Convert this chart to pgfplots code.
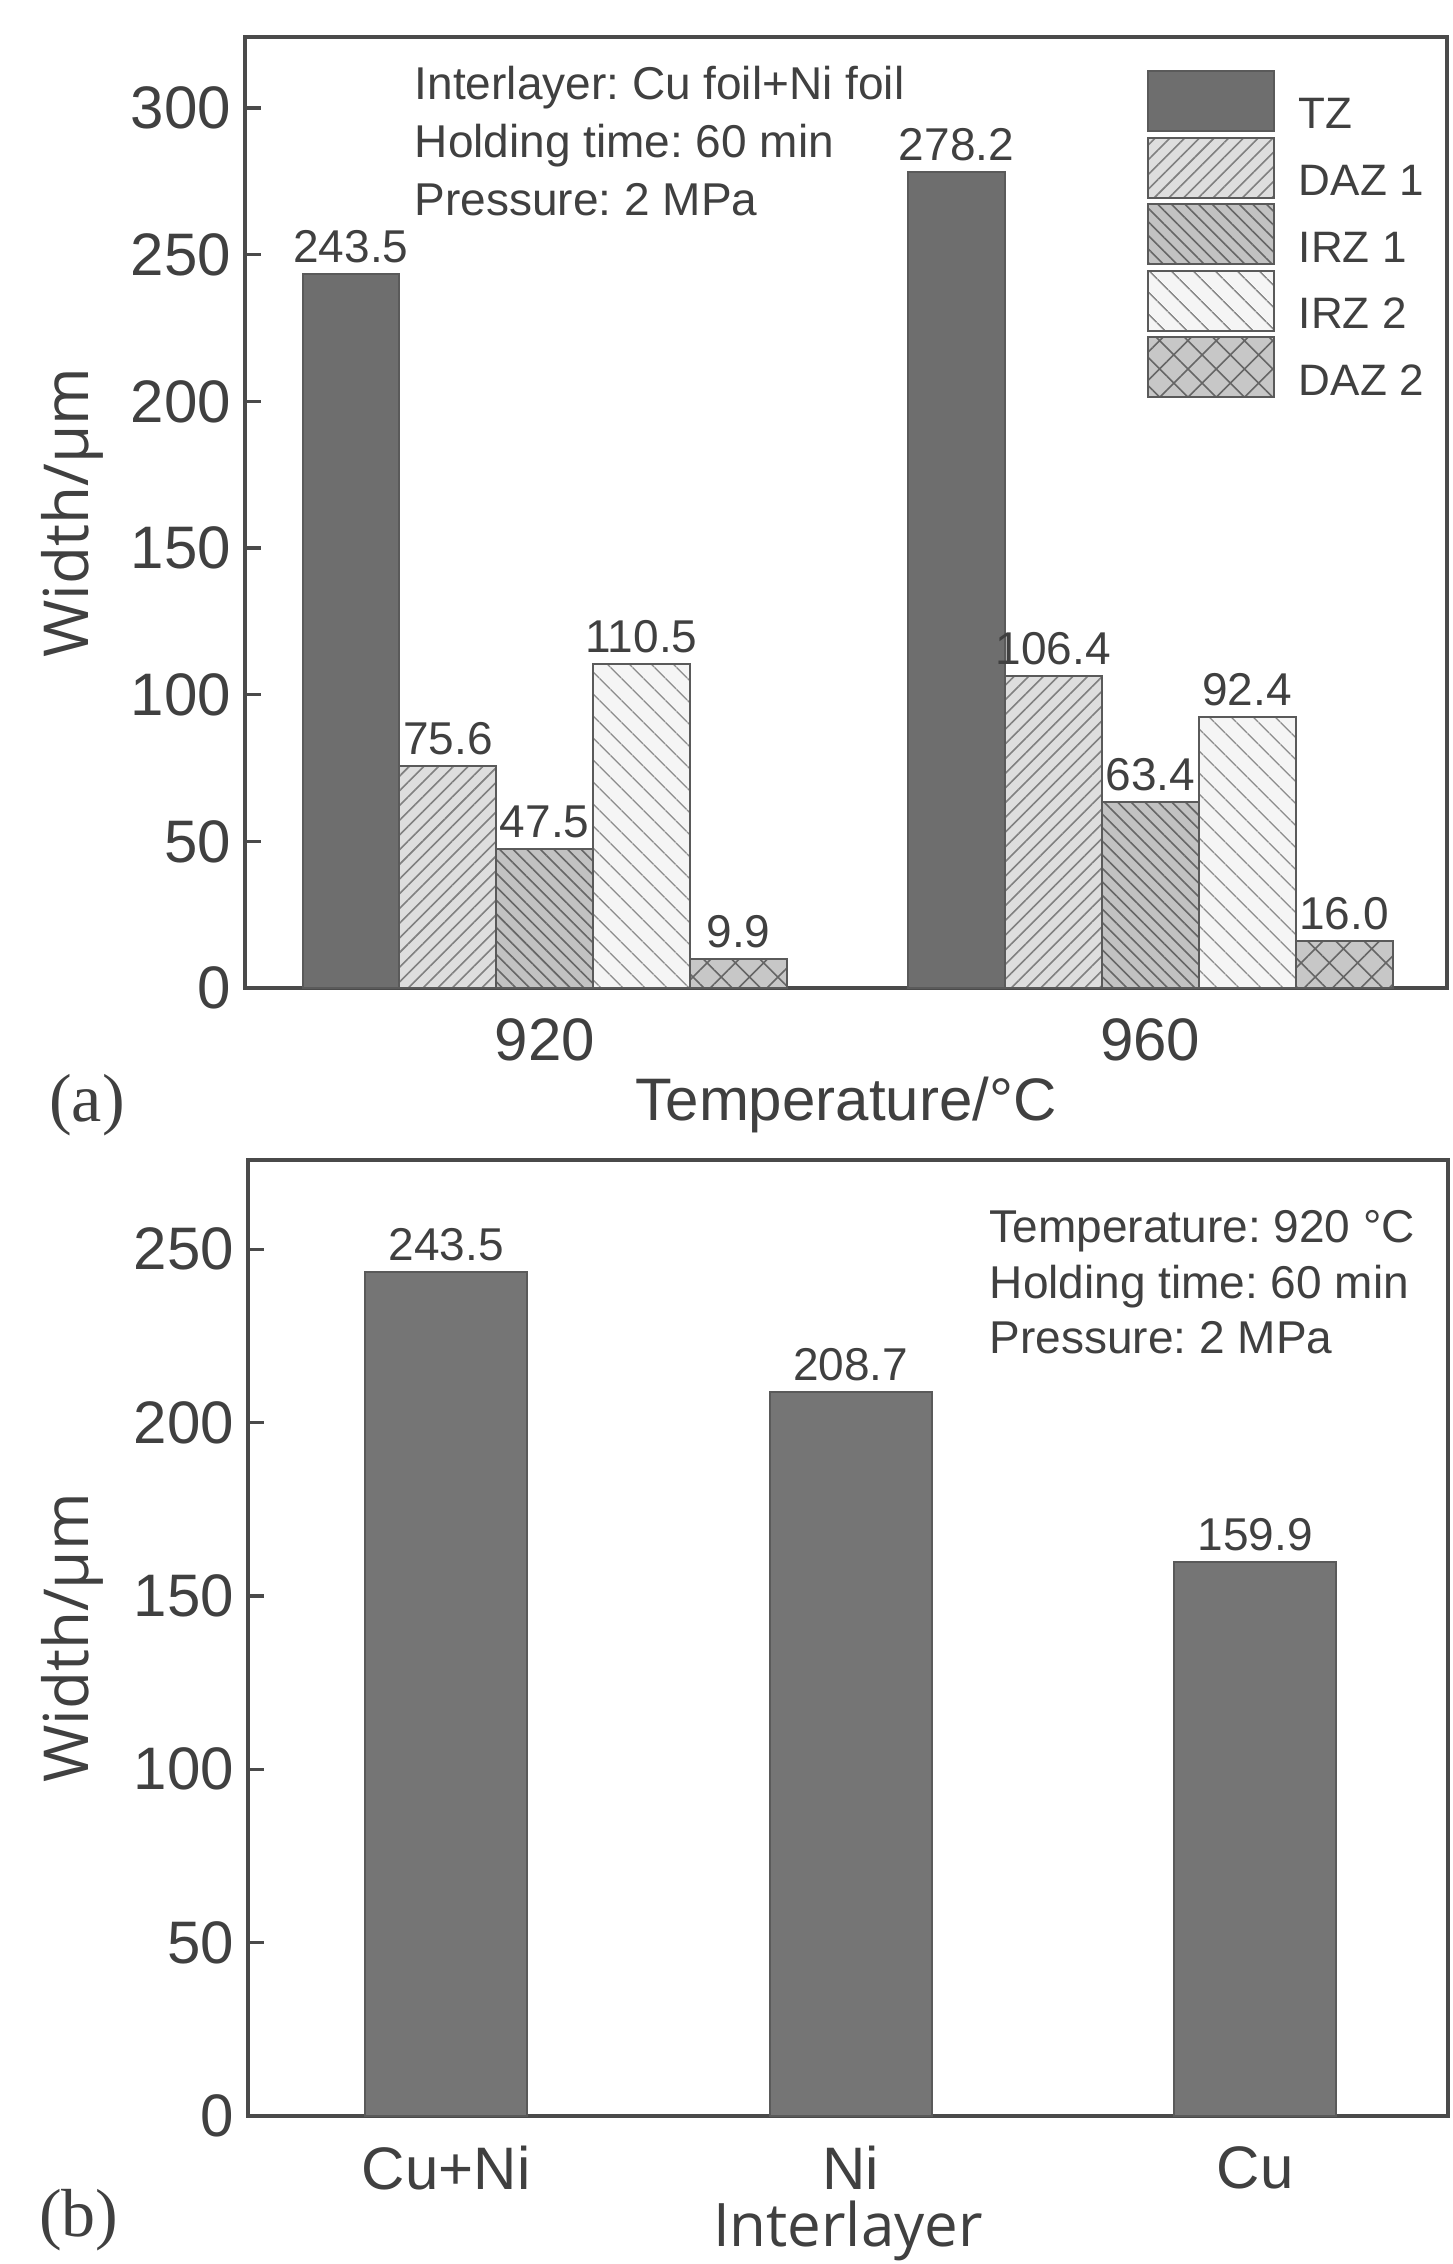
\documentclass[border=0pt]{standalone}
\usepackage{pgfplots}
\pgfplotsset{compat=1.18}
\usetikzlibrary{patterns.meta}
\usepackage{fontspec}
\setmainfont{Liberation Sans}
\newfontfamily\seriffont{Liberation Serif}
\newfontfamily\opensans{Open Sans}
\frenchspacing
\definecolor{txt}{HTML}{404040}
\definecolor{axc}{HTML}{4A4A4A}
\definecolor{tzfill}{HTML}{6E6E6E}
\definecolor{bord}{HTML}{5A5A5A}
\pgfplotsset{
  mybase/.style={
    scale only axis,
    axis line style={axc, line width=0.8pt},
    tick align=inside,
    ytick pos=left,
    xtick style={draw=none},
    ytick style={axc, line width=0.8pt},
    major tick length=4pt,
    ymin=0,
    tick label style={font=\fontsize{15}{18}\selectfont, text=txt},
    label style={font=\fontsize{15}{18}\selectfont, text=txt},
    ylabel style={font=\opensans\fontsize{15.5}{18}\selectfont},
    /pgf/number format/assume math mode=true,
    ybar=0pt,
    nodes near coords,
    every node near coord/.append style={font=\fontsize{11.5}{13}\selectfont, text=txt, anchor=south, inner sep=0pt, yshift=2.5pt,
      /pgf/number format/fixed, /pgf/number format/fixed zerofill, /pgf/number format/precision=1},
  },
  leg/.style={legend image code/.code={\draw[##1] (0pt,-3.55pt) rectangle (31.5pt,11.45pt);}},
}
\begin{document}
\begin{tikzpicture}
\path[use as bounding box] (-61.25pt,9.25pt) rectangle (302pt,-556.75pt);
\begin{axis}[mybase, at={(0,0)}, anchor=north west,
  width=300.5pt, height=237.75pt,
  xmin=-0.495, xmax=1.49, ymax=324.2,
  ytick={0,50,...,300},
  xtick={0,1}, xticklabels={920,960},
  bar width=0.16,
  xlabel={Temperature/°C}, ylabel={Width/µm},
  xlabel style={at={(axis description cs:0.5,-0.123)}, anchor=center},
  ylabel style={at={(axis description cs:-0.1439,0.5)}, anchor=center},
  legend cell align=left,
  legend style={at={(axis description cs:0.7504,0.9653)}, anchor=north west, draw=none, fill=none,
    inner sep=0pt, outer sep=0pt, row sep=0.4pt, font=\fontsize{11}{13}\selectfont, text=txt,
    nodes={inner sep=0pt}, /tikz/every odd column/.append style={column sep=6pt}},
]
\addplot[leg, fill=tzfill, draw=bord, line width=0.5pt] coordinates {(0,243.5) (1,278.2)};
\addplot[leg, fill=black!13, draw=bord, line width=0.5pt,
  postaction={pattern={Lines[angle=45,distance=2.6pt,line width=0.4pt]}, pattern color=black!50}]
  coordinates {(0,75.6) (1,106.4)};
\addplot[leg, fill=black!24, draw=bord, line width=0.5pt,
  postaction={pattern={Lines[angle=-45,distance=2.4pt,line width=0.4pt]}, pattern color=black!60}]
  coordinates {(0,47.5) (1,63.4)};
\addplot[leg, fill=black!4, draw=bord, line width=0.5pt,
  postaction={pattern={Lines[angle=-45,distance=4pt,line width=0.4pt]}, pattern color=black!45}]
  coordinates {(0,110.5) (1,92.4)};
\addplot[leg, fill=black!22, draw=bord, line width=0.5pt,
  postaction={pattern={Hatch[angle=45,distance=5pt,line width=0.4pt]}, pattern color=black!60}]
  coordinates {(0,9.9) (1,16.0)};
\legend{TZ, DAZ 1, IRZ 1, IRZ 2, DAZ 2}
\node[anchor=north west, align=left, inner sep=0pt, font=\fontsize{11.5}{14.5}\selectfont, text=txt]
  at (axis description cs:0.1406,0.9706) {Interlayer: Cu foil+Ni foil\\Holding time: 60 min\\Pressure: 2 MPa};
\end{axis}
\node[font=\seriffont\fontsize{17}{20}\selectfont, text=txt] at (-39.5pt,-267pt) {(a)};
\begin{axis}[mybase, at={(0.75pt,-280.75pt)}, anchor=north west,
  width=300pt, height=239pt,
  xmin=-0.49, xmax=2.477, ymax=275.7,
  ytick={0,50,...,250},
  xtick={0,1,2}, xticklabels={Cu+Ni,Ni,Cu},
  bar width=0.4,
  xlabel={Interlayer}, ylabel={Width/µm},
  xlabel style={at={(axis description cs:0.5,-0.1203)}, anchor=center, font=\opensans\fontsize{15}{18}\selectfont},
  ylabel style={at={(axis description cs:-0.1467,0.5)}, anchor=center},
]
\addplot[fill=tzfill!95!white, draw=bord, line width=0.5pt] coordinates {(0,243.5) (1,208.7) (2,159.9)};
\node[anchor=north west, align=left, inner sep=0pt, font=\fontsize{11.5}{13.9}\selectfont, text=txt]
  at (axis description cs:0.6175,0.948) {Temperature: 920 °C\\Holding time: 60 min\\Pressure: 2 MPa};
\end{axis}
\node[font=\seriffont\fontsize{17}{20}\selectfont, text=txt] at (-41.5pt,-545.75pt) {(b)};
\end{tikzpicture}
\end{document}
